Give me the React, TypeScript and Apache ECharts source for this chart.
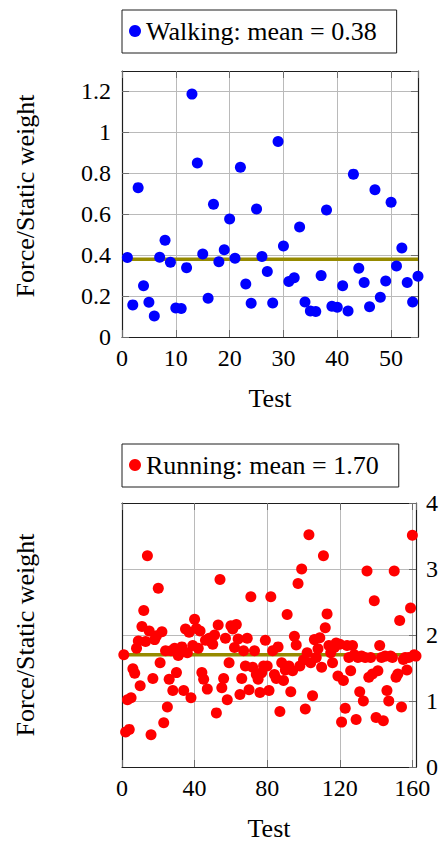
import React, { useEffect, useRef } from "react";
import * as echarts from "echarts";

// Walking tests: force / static weight for tests 1..55
const walkingValues = [
  0.388, 0.157, 0.73, 0.251, 0.17, 0.103, 0.39, 0.473, 0.365, 0.142,
  0.139, 0.339, 1.187, 0.85, 0.406, 0.189, 0.649, 0.368, 0.426, 0.577,
  0.385, 0.83, 0.259, 0.165, 0.626, 0.393, 0.32, 0.166, 0.955, 0.445,
  0.271, 0.29, 0.538, 0.171, 0.127, 0.125, 0.3, 0.621, 0.15, 0.145,
  0.251, 0.127, 0.796, 0.336, 0.266, 0.148, 0.72, 0.194, 0.274, 0.659,
  0.347, 0.435, 0.266, 0.171, 0.297,
];

// Running tests: force / static weight for tests 1..162
const runningValues = [
  1.70, 0.53, 1.02, 0.57, 1.05, 1.49, 1.42, 1.80, 1.91, 1.23,
  2.13, 2.37, 1.90, 3.20, 2.06, 0.49, 1.34, 1.93, 1.99, 2.71,
  1.58, 2.05, 0.67, 1.76, 0.91, 1.33, 1.76, 1.16, 1.80, 1.43,
  1.69, 1.73, 1.82, 1.16, 2.09, 1.73, 2.04, 1.05, 1.84, 2.24,
  2.10, 1.80, 2.06, 1.43, 1.33, 1.92, 1.18, 1.95, 1.90, 1.86,
  2.00, 0.82, 2.15, 2.84, 1.20, 1.34, 1.95, 1.02, 1.58, 2.14,
  2.09, 1.81, 2.16, 1.94, 1.10, 1.34, 1.76, 1.53, 1.95, 1.17,
  2.58, 1.51, 1.76, 1.40, 1.33, 1.13, 1.43, 1.53, 1.92, 1.53,
  1.16, 2.58, 1.76, 1.40, 1.34, 1.82, 0.84, 1.58, 1.31, 1.47,
  2.31, 1.53, 1.14, 1.46, 1.98, 1.85, 2.78, 1.53, 3.00, 1.62,
  0.88, 1.73, 3.52, 1.58, 1.08, 1.93, 1.66, 1.79, 1.96, 1.51,
  3.20, 2.11, 2.32, 1.84, 1.73, 1.58, 1.81, 1.88, 1.38, 1.86,
  0.68, 1.31, 0.89, 1.84, 1.66, 1.46, 1.84, 1.70, 0.72, 1.66,
  1.14, 1.68, 1.00, 1.66, 2.97, 1.36, 1.66, 1.41, 2.52, 0.75,
  1.46, 1.84, 1.66, 0.70, 1.68, 1.16, 1.00, 1.68, 1.66, 2.97,
  1.36, 1.41, 2.22, 0.91, 1.63, 1.66, 1.47, 1.66, 2.41, 3.51,
  1.70, 1.68,
];

const walkingMean = 0.38;
const runningMean = 1.7;
const walkingName = "Walking: mean = 0.38";
const runningName = "Running: mean = 1.70";
const xAxisName = "Test";
const yAxisName = "Force/Static weight";

// axis extents / tick steps
const walkingX = { min: 0, max: 55, interval: 10 };
const walkingY = { min: 0, max: 1.3, interval: 0.2 };
const runningX = { min: 0, max: 162, interval: 40 };
const runningY = { min: 0, max: 4, interval: 1 };

const font = "'Liberation Serif', 'Times New Roman', serif";
const gridColor = "#bababa";
const tickColor = "#6e6e6e";
const frameColor = "#1e1e1e";
const olive = "#968a00";

export default function App() {
  const ref = useRef<HTMLDivElement>(null);

  useEffect(() => {
    if (!ref.current) return;
    const chart = echarts.init(ref.current, null, { renderer: "svg" });

    const labelStyle = { fontSize: 24, fontFamily: font, color: "#000" };
    const nameStyle = { fontSize: 26, fontFamily: font, color: "#000" };
    const tick = () => ({ show: true, inside: true, length: 7, lineStyle: { color: tickColor, width: 1 } });
    const frame = () => ({ show: true, onZero: false, lineStyle: { color: frameColor, width: 1.2 } });
    const gridLines = () => ({ show: true, lineStyle: { color: gridColor, width: 1, type: "solid" } });

    const walkData = walkingValues.map((v, i) => [i + 1, v]);
    const runData = runningValues.map((v, i) => [i + 1, v]);

    const legendBase = {
      icon: "circle",
      itemWidth: 12,
      itemHeight: 12,
      borderColor: frameColor,
      borderWidth: 1,
      padding: [7, 20, 8, 7],
      selectedMode: false,
      textStyle: { ...nameStyle, lineHeight: 28 },
    };

    const option: any = {
      animation: false,
      backgroundColor: "#fff",
      grid: [
        { left: 122, top: 71, width: 296, height: 266 },
        { left: 122, top: 503, width: 296, height: 265 },
      ],
      legend: [
        { ...legendBase, data: [walkingName], left: 122, top: 10 },
        { ...legendBase, data: [runningName], left: 122, top: 444 },
      ],
      xAxis: [
        {
          gridIndex: 0, type: "value", position: "bottom", ...walkingX,
          axisLine: frame(), axisTick: tick(), splitLine: gridLines(),
          axisLabel: { ...labelStyle, margin: 9, showMaxLabel: false },
          name: xAxisName, nameLocation: "middle", nameGap: 48, nameTextStyle: nameStyle,
        },
        {
          gridIndex: 0, type: "value", position: "top", ...walkingX,
          axisLine: frame(), axisTick: tick(), splitLine: { show: false },
          axisLabel: { show: false },
        },
        {
          gridIndex: 1, type: "value", position: "bottom", ...runningX,
          axisLine: frame(), axisTick: tick(), splitLine: gridLines(),
          axisLabel: { ...labelStyle, margin: 9, showMaxLabel: false },
          name: xAxisName, nameLocation: "middle", nameGap: 48, nameTextStyle: nameStyle,
        },
        {
          gridIndex: 1, type: "value", position: "top", ...runningX,
          axisLine: frame(), axisTick: tick(), splitLine: { show: false },
          axisLabel: { show: false },
        },
      ],
      yAxis: [
        {
          gridIndex: 0, type: "value", position: "left", ...walkingY,
          axisLine: frame(), axisTick: tick(), splitLine: gridLines(),
          axisLabel: { ...labelStyle, margin: 11, showMaxLabel: false },
          name: yAxisName, nameLocation: "middle", nameGap: 84,
          nameTextStyle: { ...nameStyle, padding: [0, 0, 0, 16] },
        },
        {
          gridIndex: 0, type: "value", position: "right", ...walkingY,
          axisLine: frame(), axisTick: tick(), splitLine: { show: false },
          axisLabel: { show: false },
        },
        {
          gridIndex: 1, type: "value", position: "right", ...runningY,
          axisLine: frame(), axisTick: tick(), splitLine: gridLines(),
          axisLabel: { ...labelStyle, margin: 10 },
        },
        {
          gridIndex: 1, type: "value", position: "left", ...runningY,
          axisLine: frame(), axisTick: { show: false }, splitLine: { show: false },
          axisLabel: { show: false },
          name: yAxisName, nameLocation: "middle", nameGap: 84, nameTextStyle: nameStyle,
        },
      ],
      series: [
        {
          name: "Walking mean", type: "line", xAxisIndex: 0, yAxisIndex: 0,
          data: [[1, walkingMean], [walkingX.max, walkingMean]],
          symbol: "none", lineStyle: { color: olive, width: 3.5 }, z: 1, silent: true,
        },
        {
          name: walkingName, type: "scatter", xAxisIndex: 0, yAxisIndex: 0,
          data: walkData, symbolSize: 11, itemStyle: { color: "#0000ff", opacity: 1 }, z: 3,
        },
        {
          name: "Running mean", type: "line", xAxisIndex: 2, yAxisIndex: 2,
          data: [[1, runningMean], [runningX.max, runningMean]],
          symbol: "none", lineStyle: { color: olive, width: 3.5 }, z: 1, silent: true,
        },
        {
          name: runningName, type: "scatter", xAxisIndex: 2, yAxisIndex: 2,
          data: runData, symbolSize: 11, itemStyle: { color: "#ff0000", opacity: 1 }, z: 3,
        },
      ],
    };

    chart.setOption(option);
    return () => chart.dispose();
  }, []);

  return (
    <div
      ref={ref}
      style={{ position: "absolute", left: 0, top: 0, width: 441, height: 842 }}
    />
  );
}
